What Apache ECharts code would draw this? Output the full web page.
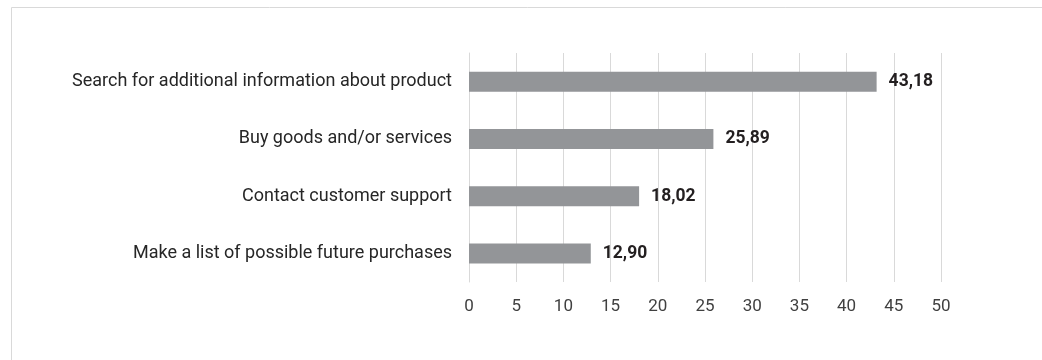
<!DOCTYPE html>
<html><head><meta charset="utf-8">
<script src="https://cdn.jsdelivr.net/npm/echarts@6/dist/echarts.min.js"></script>
<style>html,body{margin:0;padding:0;background:#fff}#c{width:1042px;height:360px}</style>
</head><body><div id="c"></div>
<script>
const categories = ["Make a list of possible future purchases","Contact customer support","Buy goods and/or services","Search for additional information about product"];
const values = [12.90, 18.02, 25.89, 43.18];
const FONT = "Roboto";
const chart = echarts.init(document.getElementById('c'), null, {renderer:'canvas'});
chart.setOption({
  animation:false,
  backgroundColor:'#fff',
  graphic:[{type:'rect',shape:{x:11.5,y:7.5,width:1100,height:400},style:{fill:'none',stroke:'#d9d9d9',lineWidth:1},silent:true}],
  grid:{left:469,right:101,top:53,bottom:78,containLabel:false},
  xAxis:{type:'value',min:0,max:50,interval:5,
    axisLine:{show:false},axisTick:{show:false},
    splitLine:{lineStyle:{color:'#d9d9d9',width:1}},
    axisLabel:{color:'#404040',fontFamily:FONT,fontSize:17,margin:16}},
  yAxis:{type:'category',data:categories,
    axisLine:{show:true,lineStyle:{color:'#d9d9d9'}},axisTick:{show:false},
    axisLabel:{color:'#262626',fontFamily:FONT,fontSize:18,margin:17}},
  series:[{type:'bar',data:values,barWidth:20,
    itemStyle:{color:'#939598'},
    label:{show:true,position:'right',distance:12,color:'#231f20',fontFamily:FONT,fontWeight:'bold',fontSize:17.5,
      formatter:p=>p.value.toFixed(2).replace('.',',')}}]
});
</script></body></html>
